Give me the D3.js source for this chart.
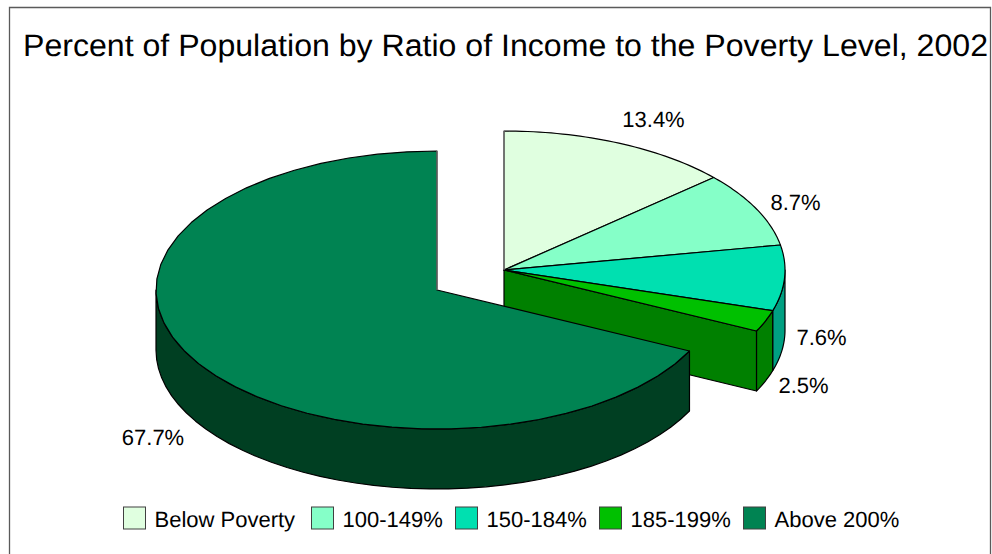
<!DOCTYPE html>
<html><head><meta charset="utf-8">
<script src="https://cdn.jsdelivr.net/npm/d3@7/dist/d3.min.js"></script>
<style>html,body{margin:0;padding:0;background:#fff}svg{display:block}text{font-family:"Liberation Sans",Arial,sans-serif;fill:#000;text-rendering:geometricPrecision}</style>
</head><body><svg id="c" width="992" height="554"></svg>
<script>
const categories = ["Below Poverty","100-149%","150-184%","185-199%","Above 200%"];
const values = [13.4,8.7,7.6,2.5,67.7];
const valueLabels = ["13.4%","8.7%","7.6%","2.5%","67.7%"];
const topColors = ["#E0FFE0","#85FFC8","#00E0B0","#00C000","#008352"];
const wallColors = ["#708070","#428064","#00A082","#008000","#003F22"];
const titleText = "Percent of Population by Ratio of Income to the Poverty Level, 2002";

const svg = d3.select("#c");
// frame
svg.append("path").attr("d","M9.5,554V7.5H990.5V554").attr("fill","none").attr("stroke","#5a5a5a").attr("stroke-width",1.3);
svg.append("text").attr("x",23).attr("y",55.5).attr("font-size",31).attr("textLength",965).attr("lengthAdjust","spacingAndGlyphs").text(titleText);

const rx=281, ry=139, depth=60;
const pie=d3.pie().sort(null).value(d=>d)(values);
const sx=d3.scaleLinear().domain([-1,1]).range([-rx,rx]);
const sy=d3.scaleLinear().domain([-1,1]).range([-ry,ry]);
const pt=(a,c,dz=0)=>[c[0]+sx(Math.sin(a)),c[1]+sy(-Math.cos(a))+dz];
const arcPts=(a0,a1,c,dz=0)=>d3.range(0,41).map(i=>pt(a0+(a1-a0)*i/40,c,dz));
const line=d3.line();
const centers=[[504,270],[504,270],[504,270],[504,270],[437,290]];
const g=svg.append("g").attr("stroke","#000").attr("stroke-width",1.2).attr("stroke-linejoin","round");

// outer wall between angles (visible front half only)
function drawWall(i){
  const p=pie[i],c=centers[i];
  const a0=Math.max(p.startAngle,Math.PI/2), a1=Math.min(p.endAngle,Math.PI*1.5);
  if(a1<=a0) return;
  const upper=arcPts(a0,a1,c), lower=arcPts(a0,a1,c,depth).reverse();
  g.append("path").attr("d",line(upper.concat(lower))+"Z").attr("fill",wallColors[i]);
}
function drawTop(i){
  const p=pie[i],c=centers[i];
  g.append("path").attr("d",line([c].concat(arcPts(p.startAngle,p.endAngle,c)))+"Z").attr("fill",topColors[i]);
}
// exploded group: cut wall, outer walls, then top faces
drawWall(2);drawWall(3);
const p3=pie[3],c3=centers[3],e3=pt(p3.endAngle,c3);
g.append("path").attr("d",line([c3,e3,[e3[0],e3[1]+depth],[c3[0],c3[1]+depth]])+"Z").attr("fill",wallColors[3]);
[0,1,2,3].forEach(drawTop);
// main slice
drawWall(4);drawTop(4);
// grey radial edges on the vertical cuts
[0,4].forEach(i=>{const c=centers[i];const e=pt(0,c);
  g.append("path").attr("d",line([e,c])).attr("stroke","#808080").attr("fill","none");});

// value labels
const labelPos=[[653.5,127],[795.5,210],[821.5,345],[803.5,393],[153,445]];
svg.append("g").selectAll("text").data(valueLabels).join("text")
  .attr("x",(d,i)=>labelPos[i][0]).attr("y",(d,i)=>labelPos[i][1])
  .attr("text-anchor","middle").attr("font-size",22).text(d=>d);

// legend
const keyX=[123,311,455,599,743];
const leg=svg.append("g").selectAll("g").data(categories).join("g").attr("transform",(d,i)=>`translate(${keyX[i]},0)`);
leg.append("rect").attr("x",0.5).attr("y",507).attr("width",22).attr("height",22)
  .attr("fill",(d,i)=>topColors[i]).attr("stroke","#404040");
leg.append("text").attr("x",31.5).attr("y",527).attr("font-size",22).text(d=>d);
</script></body></html>
